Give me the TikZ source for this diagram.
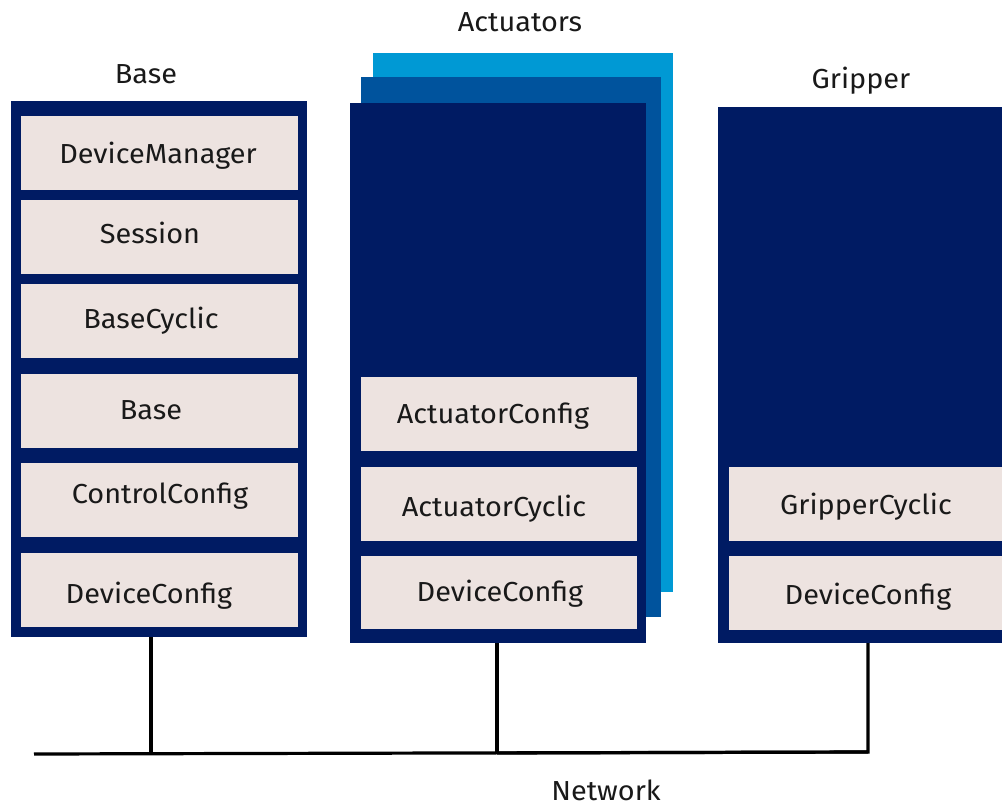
\documentclass[tikz,border=0pt]{standalone}
\usepackage{fontspec}
\setmainfont[FakeStretch=1.05]{Fira Sans}
\definecolor{navy}{HTML}{001B63}
\definecolor{midblue}{HTML}{00539D}
\definecolor{lightblue}{HTML}{0099D4}
\definecolor{cellfill}{HTML}{EDE3E0}
\begin{document}
\begin{tikzpicture}[x=1pt,y=-1pt,
  blk/.style={rectangle, inner sep=0pt, outer sep=0pt, anchor=north west, draw=none},
  outerbox/.style={blk, fill=navy},
  cell/.style={blk, fill=cellfill},
  celltext/.style={anchor=base, inner sep=0pt, font=\fontsize{27.5}{30}\selectfont, text=black!90},
  title/.style={anchor=base, inner sep=0pt, font=\fontsize{27.5}{30}\selectfont, text=black!90},
  wire/.style={line width=3.2pt, black}
]
\useasboundingbox (0,0) rectangle (1002,806);
\clip (0,0) rectangle (1002,806);
\fill[white] (0,0) rectangle (1002,806);

% titles
\node[title] (tBase) at (146,83) {Base};
\node[title] (tAct) at (520,31) {Actuators};
\node[title] (tGrip) at (861,88) {Gripper};
\node[title] (tNet) at (606,800) {Network};

% Base
\node[outerbox, minimum width=296, minimum height=536] (base) at (11,101) {};
\node[cell, minimum width=277, minimum height=74] (b1) at (21,116) {};
\node[cell, minimum width=277, minimum height=74] (b2) at (21,200) {};
\node[cell, minimum width=277, minimum height=74] (b3) at (21,284) {};
\node[cell, minimum width=277, minimum height=74] (b4) at (21,374) {};
\node[cell, minimum width=277, minimum height=74] (b5) at (21,463) {};
\node[cell, minimum width=277, minimum height=74] (b6) at (21,553) {};
\node[celltext] (b1t) at (158,163) {DeviceManager};
\node[celltext] (b2t) at (150,243) {Session};
\node[celltext] (b3t) at (151,328) {BaseCyclic};
\node[celltext] (b4t) at (151,419) {Base};
\node[celltext] (b5t) at (160,503) {ControlConfig};
\node[celltext] (b6t) at (149,603) {DeviceConfig};

% Actuators
\node[blk, fill=lightblue, minimum width=300, minimum height=539] (actC) at (373,53) {};
\node[blk, fill=midblue, minimum width=300, minimum height=540] (actB) at (361,77) {};
\node[outerbox, minimum width=296, minimum height=540] (act) at (350,103) {};
\node[cell, minimum width=276, minimum height=74] (a1) at (361,377) {};
\node[cell, minimum width=276, minimum height=74] (a2) at (361,467) {};
\node[cell, minimum width=276, minimum height=73] (a3) at (361,556) {};
\node[celltext] (a1t) at (493,423) {ActuatorConfig};
\node[celltext] (a2t) at (494,516) {ActuatorCyclic};
\node[celltext] (a3t) at (500,601) {DeviceConfig};

% Gripper
\node[outerbox, minimum width=300, minimum height=536] (grip) at (718,107) {};
\node[cell, minimum width=290, minimum height=74] (g1) at (729,467) {};
\node[cell, minimum width=290, minimum height=74] (g2) at (729,556) {};
\node[celltext] (g1t) at (866,514) {GripperCyclic};
\node[celltext] (g2t) at (868,604) {DeviceConfig};

% Network
\coordinate (netL) at (34,754);
\coordinate (jB) at (151,753.7);
\coordinate (jA) at (497,753);
\coordinate (jG) at (868,752);
\draw[wire] (netL) -- (jG);
\draw[wire] (jB |- base.south) -- (jB);
\draw[wire] (jA |- act.south) -- (jA);
\draw[wire, line join=miter] (jG |- grip.south) -- (jG) -- (jA);
\end{tikzpicture}
\end{document}
